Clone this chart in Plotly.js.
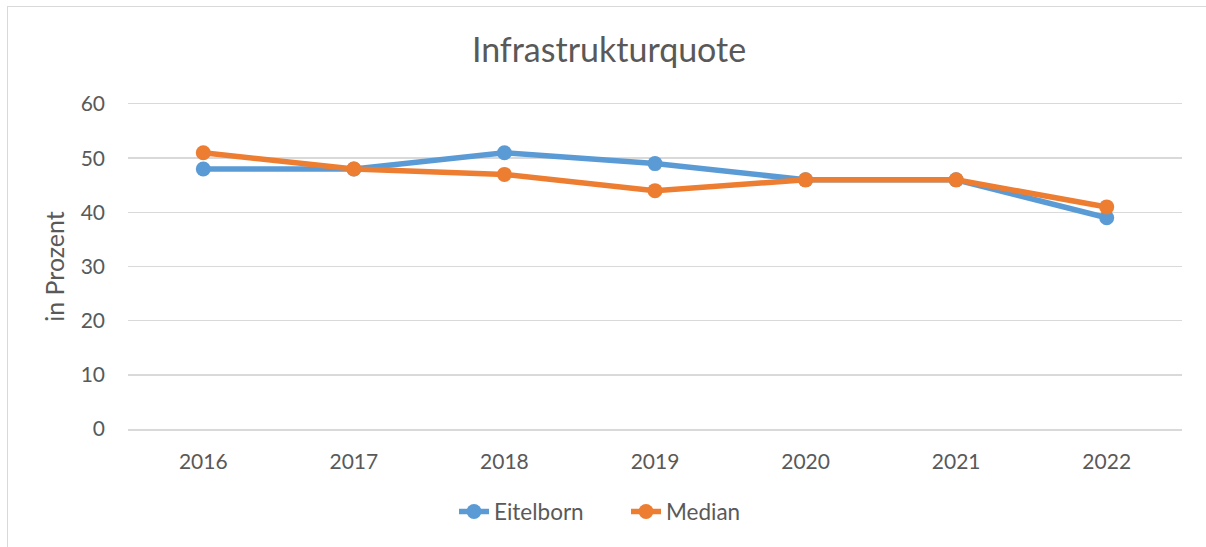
<!DOCTYPE html>
<html>
<head>
<meta charset="utf-8">
<script src="https://cdn.plot.ly/plotly-3.0.1.min.js"></script>
<style>
  html, body { margin: 0; padding: 0; background: #fff; }
  #wrap { position: relative; width: 1206px; height: 547px; overflow: hidden; }
  #chart { width: 1206px; height: 547px; }
  #frame { position: absolute; left: 7px; top: 6px; width: 1300px; height: 700px; border: 1.5px solid #d9d9d9; pointer-events: none; }
</style>
</head>
<body>
<div id="wrap"><div id="chart"></div><div id="frame"></div></div>
<script>
const years = ['2016', '2017', '2018', '2019', '2020', '2021', '2022'];
const eitelborn = [48, 48, 51, 49, 46, 46, 39];
const median = [51, 48, 47, 44, 46, 46, 41];
const yTicks = [0, 10, 20, 30, 40, 50, 60];

const fontFam = 'Lato, "Open Sans", sans-serif';
const txt = '#595959';

const traces = [
  { x: years, y: eitelborn, name: 'Eitelborn', type: 'scatter', mode: 'lines+markers',
    line: { color: '#5B9BD5', width: 5.5 }, marker: { color: '#5B9BD5', size: 15 } },
  { x: years, y: median, name: 'Median', type: 'scatter', mode: 'lines+markers',
    line: { color: '#ED7D31', width: 5.5 }, marker: { color: '#ED7D31', size: 15 } }
];

const layout = {
  width: 1206, height: 547,
  margin: { l: 128, r: 24, t: 104, b: 118 },
  paper_bgcolor: 'rgba(0,0,0,0)', plot_bgcolor: '#fff',
  font: { family: fontFam, color: txt, size: 21 },
  title: { text: 'Infrastrukturquote', x: 0.505, xanchor: 'center', y: 0.908, yanchor: 'middle',
           font: { size: 34, color: txt, family: fontFam } },
  xaxis: { type: 'category', range: [-0.5, 6.5], showgrid: false, zeroline: false,
           showline: true, mirror: true, linecolor: '#d9d9d9', linewidth: 1.5,
           ticks: '', tickfont: { size: 21, color: txt }, ticklabelstandoff: 13 },
  yaxis: { range: [0, 60], tickvals: yTicks, showgrid: true, gridcolor: '#d9d9d9', gridwidth: 1.5,
           zeroline: false, showline: false, ticks: '', tickfont: { size: 21, color: txt },
           ticklabelstandoff: 22,
           title: { text: 'in Prozent', font: { size: 25, color: txt }, standoff: 8 } },
  legend: { orientation: 'h', x: 0.4725, xanchor: 'center', y: -0.255, yanchor: 'middle',
            font: { size: 22.5, color: txt }, entrywidth: 127, entrywidthmode: 'pixels', tracegroupgap: 0 },
  showlegend: true
};

Plotly.newPlot('chart', traces, layout, { displayModeBar: false, staticPlot: true });
</script>
</body>
</html>
